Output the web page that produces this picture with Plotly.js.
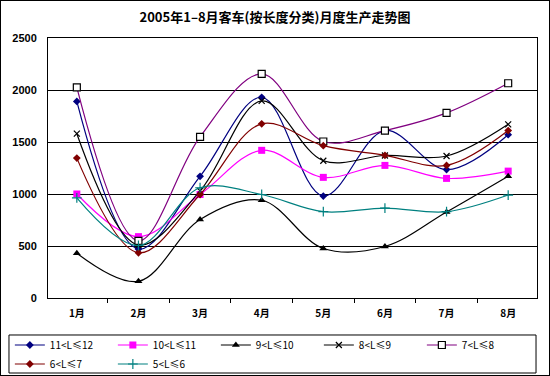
<!DOCTYPE html>
<html><head><meta charset="utf-8">
<script src="https://cdn.plot.ly/plotly-3.0.1.min.js"></script>
<style>
html,body{margin:0;padding:0;background:#fff;}
#wrap{width:550px;height:376px;box-sizing:border-box;border:1px solid #000;}
#chart{width:548px;height:374px;}
</style></head>
<body><div id="wrap"><div id="chart"></div></div>
<script>
const months = ["1月","2月","3月","4月","5月","6月","7月","8月"];
const seriesNames = ["11<L≤12","10<L≤11","9<L≤10","8<L≤9","7<L≤8","6<L≤7","5<L≤6"];
const s11_12 = [1890, 470, 1170, 1930, 980, 1610, 1235, 1570];
const s10_11 = [1000, 590, 995, 1420, 1160, 1275, 1150, 1220];
const s9_10  = [430, 160, 755, 940, 476, 495, 826, 1170];
const s8_9   = [1580, 510, 1030, 1895, 1320, 1370, 1365, 1670];
const s7_8   = [2025, 550, 1550, 2155, 1505, 1610, 1780, 2065];
const s6_7   = [1345, 435, 995, 1675, 1465, 1372, 1275, 1610];
const s5_6   = [962, 505, 1060, 995, 830, 864, 830, 990];

const values = [s11_12, s10_11, s9_10, s8_9, s7_8, s6_7, s5_6];
const colors = ["#000080","#FF00FF","#000000","#000000","#800080","#800000","#008080"];
const symbols = ["diamond","square","triangle-up","x-thin","square","diamond","cross-thin"];
const msizes = [6,7,7,6,7,6,7];

const traces = values.map((v,i)=>({
  x: months, y: v, name: seriesNames[i], type:"scatter", mode:"lines+markers",
  line:{color:colors[i], width:1.2, shape:"spline", smoothing:1},
  marker:{symbol:symbols[i], size:msizes[i], color: i===4 ? "#ffffff" : colors[i],
          line:{color: i===4 ? "#000000" : colors[i], width: (i===3||i===6||i===4)?1.2:0}}
}));

const layout = {
  width:548, height:374,
  margin:{l:47, r:12, t:37, b:77, autoexpand:false},
  paper_bgcolor:"#fff", plot_bgcolor:"#fff",
  font:{family:"Liberation Sans, Noto Sans CJK SC, sans-serif", color:"#000"},
  title:{text:"2005年1–8月客车(按长度分类)月度生产走势图", x:0.5, xanchor:"center", y:0.955, yanchor:"middle",
         font:{family:"Noto Sans CJK SC, sans-serif", size:13, weight:"bold", color:"#000"}},
  xaxis:{type:"category", showline:true, linecolor:"#000", linewidth:1, mirror:true,
         ticks:"outside", tickson:"boundaries", ticklen:4, tickcolor:"#000",
         showgrid:false, ticklabelstandoff:6,
         tickfont:{family:"Noto Sans CJK SC, sans-serif", size:10, weight:"bold", color:"#000"}},
  yaxis:{range:[0,2500], dtick:500, showline:true, linecolor:"#000", linewidth:1, mirror:true,
         showgrid:true, gridcolor:"#000", gridwidth:1, ticks:"", ticklabelstandoff:8, zeroline:false,
         tickfont:{family:"Liberation Sans, sans-serif", size:11, weight:"bold", color:"#000"}},
  showlegend:true,
  legend:{orientation:"h", x:-0.078, xanchor:"left", y:-0.125, yanchor:"top",
          borderwidth:0, bgcolor:"rgba(0,0,0,0)",
          entrywidth:58, entrywidthmode:"pixels", itemwidth:30, tracegroupgap:0,
          font:{family:"Noto Sans CJK SC, sans-serif", size:10, color:"#000"}},
  shapes:[{type:"rect", xref:"paper", yref:"paper", x0:-0.0798, x1:0.998, y0:-0.2885, y1:-0.1423,
           line:{color:"#000", width:1}, fillcolor:"rgba(0,0,0,0)"}]
};
Plotly.newPlot("chart", traces, layout, {displayModeBar:false, staticPlot:true});
</script></body></html>
